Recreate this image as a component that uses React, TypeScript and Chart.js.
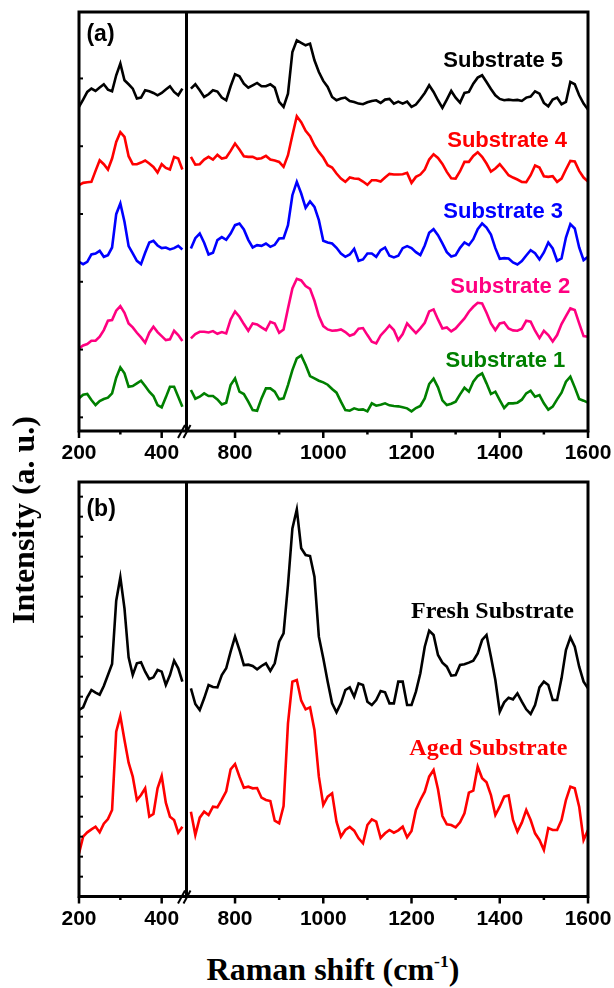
import React, { useEffect, useRef } from "react";
import { Chart, registerables } from "chart.js";

Chart.register(...registerables);

// Raman shift sampling (cm-1) for the low- and high-wavenumber windows
const leftShift = [200, 210, 220, 230, 240, 250, 260, 270, 280, 290, 300, 310, 320, 330, 340, 350, 360, 370, 380, 390, 400, 410, 420, 430, 440, 450];
const rightShift = [
  700, 710, 720, 730, 740, 750, 760, 770, 780, 790,
  800, 810, 820, 830, 840, 850, 860, 870, 880, 890,
  900, 910, 920, 930, 940, 950, 960, 970, 980, 990,
  1000, 1010, 1020, 1030, 1040, 1050, 1060, 1070, 1080, 1090,
  1100, 1110, 1120, 1130, 1140, 1150, 1160, 1170, 1180, 1190,
  1200, 1210, 1220, 1230, 1240, 1250, 1260, 1270, 1280, 1290,
  1300, 1310, 1320, 1330, 1340, 1350, 1360, 1370, 1380, 1390,
  1400, 1410, 1420, 1430, 1440, 1450, 1460, 1470, 1480, 1490,
  1500, 1510, 1520, 1530, 1540, 1550, 1560, 1570, 1580, 1590,
  1600,
];

// axis tick positions
const leftTicks = [200, 300, 400];
const rightTicks = [800, 900, 1000, 1100, 1200, 1300, 1400, 1500, 1600];
const labeledTicks = [200, 400, 800, 1000, 1200, 1400, 1600];
const ticksA = [0, 203.5, 407, 610.5, 814, 1017.5];
const ticksB = [20, 80, 140, 200, 260, 320, 380, 440, 500, 560, 620, 680, 740, 800, 860, 920, 980, 1040, 1100, 1160];

// (a) five substrates, vertically offset spectra (a.u.)
const sub5Left = [932, 954, 977, 987, 980, 990, 1000, 984, 979, 1027, 1062, 1012, 1000, 987, 957, 960, 982, 979, 974, 967, 974, 984, 994, 977, 967, 987];
const sub5Right = [
  987, 1000, 982, 962, 970, 982, 978, 960, 952, 994,
  1030, 1024, 1002, 990, 997, 1004, 994, 994, 1000, 990,
  947, 932, 972, 1097, 1132, 1124, 1117, 1122, 1072, 1037,
  1010, 992, 962, 952, 957, 960, 950, 947, 942, 940,
  946, 950, 952, 944, 954, 956, 942, 948, 942, 948,
  932, 939, 956, 974, 997, 977, 952, 929, 954, 980,
  960, 945, 974, 977, 1002, 1020, 1027, 1007, 986, 967,
  956, 952, 954, 952, 953, 950, 960, 963, 979, 972,
  944, 934, 954, 960, 940, 947, 1007, 1000, 967, 942,
  924,
];

const sub4Left = [697, 704, 706, 707, 740, 772, 760, 744, 777, 827, 856, 842, 784, 760, 760, 765, 771, 762, 752, 735, 760, 749, 744, 782, 777, 744];
const sub4Right = [
  782, 759, 760, 774, 782, 774, 788, 777, 780, 800,
  822, 804, 784, 782, 782, 776, 778, 785, 774, 771,
  767, 752, 787, 847, 904, 886, 860, 844, 817, 797,
  780, 757, 750, 732, 717, 707, 720, 717, 716, 708,
  698, 712, 712, 708, 720, 731, 729, 729, 730, 734,
  704, 722, 729, 744, 774, 790, 779, 761, 737, 718,
  717, 739, 767, 767, 785, 796, 782, 762, 738, 747,
  760, 744, 727, 720, 714, 707, 706, 727, 756, 750,
  724, 722, 724, 707, 717, 744, 770, 768, 740, 720,
  708,
];

const sub3Left = [467, 460, 467, 489, 492, 500, 482, 487, 510, 610, 642, 587, 514, 492, 470, 460, 494, 525, 530, 516, 508, 510, 504, 508, 515, 504];
const sub3Right = [
  507, 538, 552, 524, 489, 494, 532, 541, 533, 552,
  577, 582, 564, 533, 510, 517, 515, 522, 512, 518,
  537, 538, 577, 667, 707, 672, 629, 648, 632, 592,
  530, 525, 522, 509, 492, 482, 489, 506, 470, 474,
  492, 492, 482, 502, 510, 485, 480, 485, 508, 514,
  508, 496, 487, 516, 554, 565, 547, 522, 496, 483,
  487, 509, 525, 517, 535, 565, 582, 570, 549, 508,
  476, 478, 477, 465, 459, 469, 486, 502, 493, 474,
  495, 525, 507, 470, 477, 540, 580, 567, 510, 472,
  482,
];

const sub2Left = [207, 216, 220, 230, 230, 242, 262, 290, 292, 320, 334, 314, 282, 270, 254, 240, 224, 254, 272, 256, 244, 232, 234, 260, 247, 229];
const sub2Right = [
  237, 250, 257, 257, 255, 259, 251, 256, 252, 294,
  318, 302, 280, 260, 282, 279, 270, 262, 287, 282,
  254, 264, 327, 387, 416, 411, 394, 386, 350, 304,
  274, 264, 260, 261, 264, 256, 245, 250, 266, 268,
  247, 227, 222, 246, 260, 276, 262, 232, 250, 282,
  267, 253, 267, 284, 318, 324, 294, 267, 270, 258,
  267, 282, 297, 317, 332, 344, 342, 314, 282, 262,
  282, 285, 267, 261, 260, 266, 290, 287, 260, 238,
  260, 247, 228, 247, 280, 304, 327, 322, 282, 244,
  242,
];

const sub1Left = [57, 68, 70, 52, 37, 49, 55, 59, 72, 119, 150, 132, 92, 94, 102, 110, 94, 77, 64, 37, 30, 60, 92, 92, 62, 32];
const sub1Right = [
  82, 56, 62, 72, 64, 64, 54, 39, 44, 97,
  117, 77, 70, 47, 22, 20, 57, 87, 87, 77,
  54, 57, 97, 142, 177, 186, 157, 124, 117, 110,
  105, 98, 85, 74, 47, 22, 20, 27, 23, 24,
  18, 42, 35, 38, 42, 36, 34, 33, 30, 27,
  18, 28, 34, 57, 100, 116, 90, 51, 37, 41,
  47, 69, 89, 77, 107, 124, 132, 102, 70, 77,
  52, 28, 42, 42, 44, 53, 72, 80, 62, 67,
  42, 23, 32, 54, 74, 107, 122, 90, 55, 50,
  44,
];

// (b) fresh versus aged substrate (a.u.)
const freshLeft = [520, 528, 558, 580, 572, 566, 592, 625, 658, 848, 918, 825, 678, 625, 660, 663, 635, 613, 618, 640, 635, 595, 625, 668, 645, 605];
const freshRight = [
  585, 538, 520, 555, 595, 589, 588, 625, 645, 695,
  740, 700, 655, 656, 652, 642, 652, 660, 637, 660,
  725, 750, 895, 1065, 1122, 1005, 985, 982, 920, 740,
  675, 605, 540, 513, 540, 580, 588, 560, 600, 595,
  545, 535, 550, 577, 573, 540, 540, 605, 605, 535,
  535, 575, 630, 710, 758, 745, 685, 662, 650, 623,
  625, 655, 657, 662, 668, 690, 730, 745, 680, 610,
  515, 543, 557, 552, 570, 545, 522, 508, 535, 588,
  605, 595, 550, 550, 615, 700, 738, 710, 650, 605,
  585,
];

const agedLeft = [90, 140, 153, 162, 170, 153, 179, 193, 220, 455, 502, 430, 362, 320, 250, 265, 285, 200, 208, 285, 322, 242, 200, 190, 152, 170];
const agedRight = [
  215, 145, 197, 215, 205, 230, 228, 251, 276, 342,
  358, 320, 287, 290, 285, 286, 257, 250, 247, 188,
  180, 232, 480, 605, 610, 548, 522, 528, 460, 320,
  235, 260, 270, 185, 140, 160, 169, 158, 135, 120,
  175, 192, 185, 136, 150, 160, 152, 159, 170, 138,
  157, 220, 250, 275, 320, 340, 282, 202, 177, 175,
  168, 183, 210, 272, 278, 350, 315, 303, 265, 205,
  230, 260, 264, 190, 155, 182, 220, 190, 150, 130,
  100, 166, 160, 160, 190, 250, 290, 285, 230, 130,
  160,
];

const SANS = "'Liberation Sans', Arial, sans-serif";
const SERIF = "'Liberation Serif', 'Times New Roman', serif";

type Series = { name: string; color: string; left: number[]; right: number[] };
type Label = { text: string; color: string; axis: "xl" | "xr"; x: number; y: number; font: string };
type PanelSpec = {
  top: number;
  height: number;
  axisHeight: number;
  yMin: number;
  yMax: number;
  yTicks: number[];
  series: Series[];
  labels: Label[];
};

const panelA: PanelSpec = {
  top: 0,
  height: 470,
  axisHeight: 39,
  yMin: -41,
  yMax: 1217,
  yTicks: ticksA,
  series: [
    { name: "Substrate 5", color: "#000000", left: sub5Left, right: sub5Right },
    { name: "Substrate 4", color: "#ff0000", left: sub4Left, right: sub4Right },
    { name: "Substrate 3", color: "#0000ff", left: sub3Left, right: sub3Right },
    { name: "Substrate 2", color: "#ff0080", left: sub2Left, right: sub2Right },
    { name: "Substrate 1", color: "#008000", left: sub1Left, right: sub1Right },
  ],
  labels: [
    { text: "(a)", color: "#000", axis: "xl", x: 218, y: 1129, font: `bold 23px ${SANS}` },
    { text: "Substrate 5", color: "#000000", axis: "xr", x: 1272, y: 1051, font: `bold 22px ${SANS}` },
    { text: "Substrate 4", color: "#ff0000", axis: "xr", x: 1281, y: 811, font: `bold 22px ${SANS}` },
    { text: "Substrate 3", color: "#0000ff", axis: "xr", x: 1272, y: 598, font: `bold 22px ${SANS}` },
    { text: "Substrate 2", color: "#ff0080", axis: "xr", x: 1288, y: 373, font: `bold 22px ${SANS}` },
    { text: "Substrate 1", color: "#008000", axis: "xr", x: 1277, y: 151, font: `bold 22px ${SANS}` },
  ],
};

const panelB: PanelSpec = {
  top: 470,
  height: 470,
  axisHeight: 43.5,
  yMin: -39.5,
  yMax: 1204,
  yTicks: ticksB,
  series: [
    { name: "Fresh Substrate", color: "#000000", left: freshLeft, right: freshRight },
    { name: "Aged Substrate", color: "#ff0000", left: agedLeft, right: agedRight },
  ],
  labels: [
    { text: "(b)", color: "#000", axis: "xl", x: 218, y: 1102, font: `bold 23px ${SANS}` },
    { text: "Fresh Substrate", color: "#000000", axis: "xr", x: 1199, y: 796, font: `bold 24px ${SERIF}` },
    { text: "Aged Substrate", color: "#ff0000", axis: "xr", x: 1195, y: 385, font: `bold 24px ${SERIF}` },
  ],
};

// frame, divider, tick marks, axis break and in-plot labels
const framePlugin = {
  id: "frame",
  afterDraw(chart: any, _args: any, opts: any) {
    const { ctx, chartArea: a, scales } = chart;
    const xl = scales.xl;
    const xr = scales.xr;
    const y = scales.y;
    const line = (x1: number, y1: number, x2: number, y2: number) => {
      ctx.beginPath();
      ctx.moveTo(x1, y1);
      ctx.lineTo(x2, y2);
      ctx.stroke();
    };
    ctx.save();
    ctx.strokeStyle = "#000";
    ctx.lineCap = "butt";

    // inward y ticks
    ctx.lineWidth = 2;
    for (const v of opts.yTicks as number[]) {
      const py = y.getPixelForValue(v);
      line(a.left, py, a.left + 4, py);
    }

    // outward x ticks (major labelled, minor short)
    ctx.lineWidth = 2.5;
    const tickFor = (scale: any, vals: number[]) => {
      for (const v of vals) {
        const px = scale.getPixelForValue(v);
        const len = labeledTicks.includes(v) ? 7 : 3.5;
        line(px, a.bottom, px, a.bottom + len);
      }
    };
    tickFor(xl, leftTicks);
    tickFor(xr, rightTicks);

    // frame and split
    ctx.lineWidth = 3;
    ctx.strokeRect(a.left, a.top, a.right - a.left, a.bottom - a.top);
    const xd = xl.right;
    line(xd, a.top, xd, a.bottom);

    // axis break marks
    ctx.lineWidth = 2;
    line(xd - 8.5, a.bottom + 7, xd - 1.5, a.bottom - 6);
    line(xd - 3, a.bottom + 7, xd + 4, a.bottom - 6);

    // labels
    ctx.textAlign = "left";
    ctx.textBaseline = "alphabetic";
    for (const lb of opts.labels as Label[]) {
      ctx.font = lb.font;
      ctx.fillStyle = lb.color;
      ctx.fillText(lb.text, scales[lb.axis].getPixelForValue(lb.x), y.getPixelForValue(lb.y));
    }
    ctx.restore();
  },
};

function buildConfig(spec: PanelSpec): any {
  const datasets: any[] = [];
  for (const s of spec.series) {
    const common = {
      label: s.name,
      yAxisID: "y",
      borderColor: s.color,
      borderWidth: 2.6,
      pointRadius: 0,
      fill: false,
      tension: 0,
    };
    datasets.push({ ...common, xAxisID: "xl", data: leftShift.map((x, i) => ({ x, y: s.left[i] })) });
    datasets.push({ ...common, xAxisID: "xr", data: rightShift.map((x, i) => ({ x, y: s.right[i] })) });
  }
  const tickStyle = {
    autoSkip: false,
    maxRotation: 0,
    minRotation: 0,
    padding: 2,
    color: "#000",
    font: { family: SANS, size: 21, weight: "bold" },
    callback: (v: number) => (labeledTicks.includes(v) ? String(v) : ""),
  };
  const xAxis = (min: number, max: number, weight: number, vals: number[]) => ({
    type: "linear",
    position: "bottom",
    stack: "shift",
    stackWeight: weight,
    min,
    max,
    afterBuildTicks: (scale: any) => {
      scale.ticks = vals.map((value) => ({ value }));
    },
    afterFit: (scale: any) => {
      scale.height = spec.axisHeight;
    },
    ticks: tickStyle,
    grid: { display: false },
    border: { display: false },
  });
  return {
    type: "line",
    data: { datasets },
    options: {
      responsive: false,
      animation: false,
      devicePixelRatio: 1,
      layout: { padding: { left: 79, right: 26, top: 12, bottom: 0 } },
      plugins: {
        legend: { display: false },
        tooltip: { enabled: false },
        frame: { yTicks: spec.yTicks, labels: spec.labels },
      },
      scales: {
        xl: xAxis(200, 460, 107.5, leftTicks),
        xr: xAxis(690, 1600, 401.5, rightTicks),
        y: { type: "linear", display: false, min: spec.yMin, max: spec.yMax },
      },
    },
    plugins: [framePlugin],
  };
}

function Panel({ spec }: { spec: PanelSpec }) {
  const ref = useRef<HTMLCanvasElement>(null);
  useEffect(() => {
    const chart = new Chart(ref.current as HTMLCanvasElement, buildConfig(spec));
    return () => chart.destroy();
  }, [spec]);
  return (
    <canvas
      ref={ref}
      width={614}
      height={spec.height}
      style={{ position: "absolute", left: 0, top: spec.top, width: 614, height: spec.height }}
    />
  );
}

export default function App() {
  return (
    <div style={{ position: "absolute", left: 0, top: 0, width: 614, height: 988, background: "#fff", overflow: "hidden" }}>
      <Panel spec={panelA} />
      <Panel spec={panelB} />
      <div
        style={{
          position: "absolute",
          left: 23,
          top: 520,
          transform: "translate(-50%, -50%) rotate(-90deg)",
          whiteSpace: "nowrap",
          fontFamily: SERIF,
          fontWeight: "bold",
          fontSize: 32,
          lineHeight: 1,
          color: "#000",
        }}
      >
        Intensity (a. u.)
      </div>
      <div
        style={{
          position: "absolute",
          left: 0,
          top: 953,
          width: 666,
          textAlign: "center",
          whiteSpace: "nowrap",
          fontFamily: SERIF,
          fontWeight: "bold",
          fontSize: 32,
          lineHeight: "32px",
          color: "#000",
        }}
      >
        Raman shift (cm<sup style={{ fontSize: "0.55em", lineHeight: 0, verticalAlign: "0.75em" }}>-1</sup>)
      </div>
    </div>
  );
}
